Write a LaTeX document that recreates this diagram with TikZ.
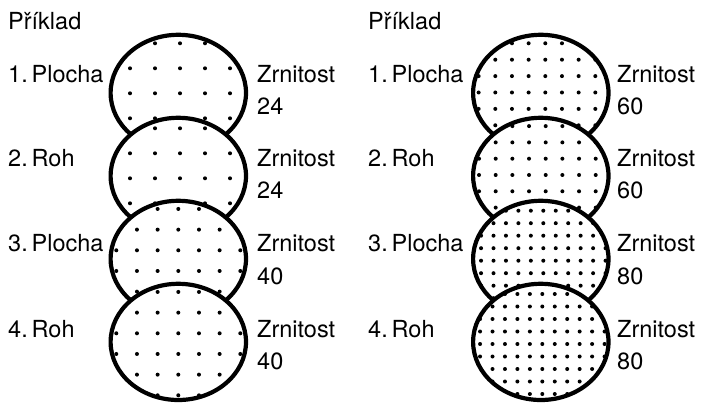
\documentclass[tikz,border=0pt]{standalone}
\usepackage{fontspec}
\setmainfont{TeX Gyre Heros}
\newcommand\dotdisk[6]{%
  \fill[white] (#1,#2) ellipse [x radius=67.7pt, y radius=58.1pt];
  \begin{scope}
    \clip (#1,#2) ellipse [x radius=67.7pt, y radius=58.1pt];
    \foreach \i in {-8,...,8}{\foreach \j in {-8,...,8}{%
      \fill ({#3+(\i)*#5},{#4+(\j)*#6}) circle[radius=2pt];}}
  \end{scope}
  \draw[diskline] (#1,#2) ellipse [x radius=67.7pt, y radius=58.1pt];
}
\begin{document}
\begin{tikzpicture}[x=1pt,y=-1pt,
  lbl/.style={anchor=base west,inner sep=0pt,font=\fontsize{23.5}{28}\selectfont},
  diskline/.style={line width=4.2pt}]
\useasboundingbox (0,0) rectangle (701,403);
% left column
\dotdisk{178.3}{92.9}{180}{93.3}{25}{25}
\dotdisk{178.3}{175.9}{180}{178.3}{25}{25}
\dotdisk{178.3}{258.9}{178.3}{250.3}{20.67}{20.67}
\dotdisk{178.3}{341.9}{178.3}{333.3}{20.67}{20.67}
% right column
\dotdisk{540.8}{92.9}{545.3}{92.5}{16.67}{16.4}
\dotdisk{540.8}{175.9}{545.7}{175}{16.67}{16.3}
\dotdisk{540.8}{258.9}{543.3}{260.7}{12.45}{12.5}
\dotdisk{540.8}{341.9}{542.3}{344}{12.45}{12.5}
% left labels
\node[lbl] (lt) at (8,30) {Příklad};
\node[lbl] (l1) at (8,83) {1.\,Plocha};
\node[lbl] (l2) at (8,167) {2.\,Roh};
\node[lbl] (l3) at (8,252) {3.\,Plocha};
\node[lbl] (l4) at (8,337) {4.\,Roh};
\node[lbl] (g1a) at (257,83) {Zrnitost};
\node[lbl] (g1b) at (257,115) {24};
\node[lbl] (g2a) at (257,167) {Zrnitost};
\node[lbl] (g2b) at (257,199) {24};
\node[lbl] (g3a) at (257,252) {Zrnitost};
\node[lbl] (g3b) at (257,284) {40};
\node[lbl] (g4a) at (257,337) {Zrnitost};
\node[lbl] (g4b) at (257,369) {40};
% right labels
\node[lbl] (rt) at (368,30) {Příklad};
\node[lbl] (r1) at (368,83) {1.\,Plocha};
\node[lbl] (r2) at (368,167) {2.\,Roh};
\node[lbl] (r3) at (368,252) {3.\,Plocha};
\node[lbl] (r4) at (368,337) {4.\,Roh};
\node[lbl] (h1a) at (617,83) {Zrnitost};
\node[lbl] (h1b) at (617,115) {60};
\node[lbl] (h2a) at (617,167) {Zrnitost};
\node[lbl] (h2b) at (617,199) {60};
\node[lbl] (h3a) at (617,252) {Zrnitost};
\node[lbl] (h3b) at (617,284) {80};
\node[lbl] (h4a) at (617,337) {Zrnitost};
\node[lbl] (h4b) at (617,369) {80};
\end{tikzpicture}
\end{document}
